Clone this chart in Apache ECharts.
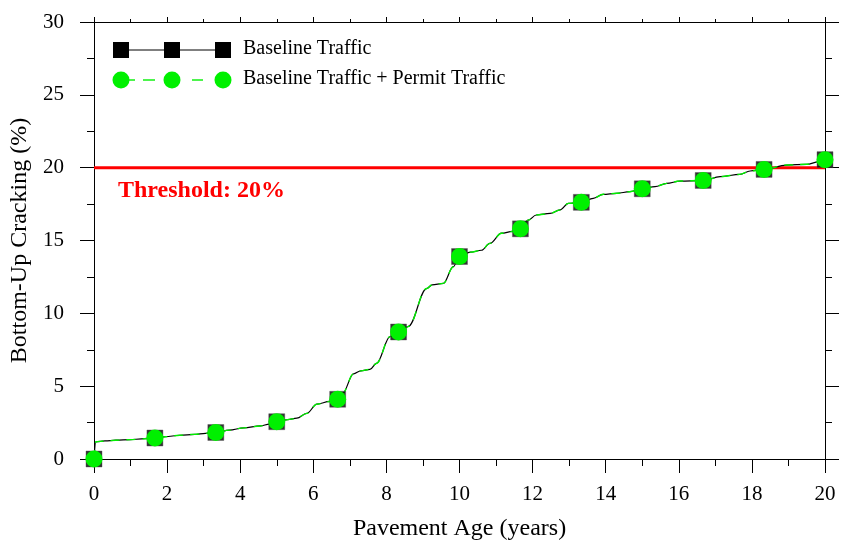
<!DOCTYPE html>
<html>
<head>
<meta charset="utf-8">
<script src="https://cdn.jsdelivr.net/npm/echarts@6/dist/echarts.min.js"></script>
<style>
  html, body { margin: 0; padding: 0; background: #fff; }
  #chart { width: 841px; height: 544px; }
</style>
</head>
<body>
<div id="chart"></div>
<script>
// curve (years, % cracking)
var curveAge = [
  0, 0.05, 0.3, 0.6, 1.0, 1.3, 1.667, 1.95, 2.35, 2.75, 3.05, 3.333,
  3.7, 4.1, 4.55, 4.8, 5.0, 5.3, 5.55, 5.82, 6.1, 6.45, 6.667,
  6.8, 7.1, 7.3, 7.55, 7.73, 8.1, 8.333, 8.6, 9.1, 9.25, 9.56, 9.83, 10.0,
  10.3, 10.6, 10.83, 11.15, 11.45, 11.667, 11.88, 12.1, 12.48, 12.75, 12.98, 13.333,
  13.66, 13.93, 14.3, 14.66, 15.0, 15.35, 15.67, 16.03, 16.667,
  17.13, 17.67, 17.95, 18.333, 18.95, 19.5, 19.82, 20.0
];
var baselineCrack = [
  0, 1.18, 1.24, 1.29, 1.33, 1.38, 1.44, 1.53, 1.63, 1.69, 1.76, 1.82,
  1.98, 2.14, 2.27, 2.4, 2.56, 2.7, 2.8, 3.13, 3.77, 3.95, 4.1,
  4.5, 5.85, 6.05, 6.15, 6.57, 8.4, 8.72, 9.1, 11.7, 11.95, 12.06, 13.2, 13.9,
  14.2, 14.33, 14.8, 15.5, 15.62, 15.8, 16.4, 16.75, 16.86, 17.1, 17.55, 17.62,
  17.89, 18.17, 18.24, 18.35, 18.55, 18.7, 18.92, 19.08, 19.12,
  19.38, 19.54, 19.77, 19.88, 20.18, 20.23, 20.4, 20.55
];
// the permit curve sits right on top of the baseline one
var permitCrack = baselineCrack.slice();

// symbols every 20 months
var markAge = [0, 1.667, 3.333, 5, 6.667, 8.333, 10, 11.667, 13.333, 15, 16.667, 18.333, 20];
var baselineMarks = [0, 1.44, 1.82, 2.56, 4.1, 8.72, 13.9, 15.8, 17.62, 18.55, 19.12, 19.88, 20.55];
var permitMarks = baselineMarks.slice();

var thresholdAge = [0, 20];
var thresholdVal = [20, 20];

function pairs(xs, ys) {
  var out = [];
  for (var i = 0; i < xs.length; i++) out.push([xs[i], ys[i]]);
  return out;
}

var FONT = '"Liberation Serif", "Times New Roman", serif';
var GREEN = '#00f000';
var chart = echarts.init(document.getElementById('chart'));

var tickCfg = { show: true, length: 14, inside: false, lineStyle: { color: '#000', width: 1 } };
var minorCfg = { show: true, splitNumber: 2, length: 7, lineStyle: { color: '#000', width: 1 } };
var lineCfg = { show: true, onZero: false, lineStyle: { color: '#000', width: 1 } };

var option = {
  animation: false,
  backgroundColor: '#fff',
  grid: { left: 94, right: 16, top: 22, bottom: 85, outerBoundsMode: 'none', containLabel: false },
  xAxis: [{
    type: 'value', min: 0, max: 20, interval: 2,
    name: 'Pavement Age (years)', nameLocation: 'middle', nameGap: 58,
    nameTextStyle: { fontFamily: FONT, fontSize: 24, color: '#000' },
    axisLine: lineCfg, axisTick: tickCfg, minorTick: minorCfg,
    splitLine: { show: false },
    axisLabel: { margin: 25, fontFamily: FONT, fontSize: 21, color: '#000' }
  }, {
    type: 'value', min: 0, max: 20, interval: 2, position: 'top',
    axisLine: lineCfg, axisTick: { show: true, length: 5, lineStyle: { color: '#000' } },
    minorTick: { show: true, splitNumber: 2, length: 3, lineStyle: { color: '#000' } },
    splitLine: { show: false }, axisLabel: { show: false }
  }],
  yAxis: [{
    type: 'value', min: 0, max: 30, interval: 5,
    name: 'Bottom-Up Cracking (%)', nameLocation: 'middle', nameGap: 60,
    nameTextStyle: { fontFamily: FONT, fontSize: 24, color: '#000' },
    axisLine: lineCfg, axisTick: tickCfg, minorTick: minorCfg,
    splitLine: { show: false },
    axisLabel: { margin: 30, fontFamily: FONT, fontSize: 21, color: '#000' }
  }, {
    type: 'value', min: 0, max: 30, interval: 5, position: 'right',
    axisLine: lineCfg, axisTick: { show: true, length: 14, lineStyle: { color: '#000' } },
    minorTick: { show: true, splitNumber: 2, length: 7, lineStyle: { color: '#000' } },
    splitLine: { show: false }, axisLabel: { show: false }
  }],
  series: [{
    name: 'Threshold', type: 'line', data: pairs(thresholdAge, thresholdVal),
    symbol: 'none', lineStyle: { color: '#ff0000', width: 3 }, z: 1
  }, {
    name: 'Baseline Traffic', type: 'line', data: pairs(curveAge, baselineCrack),
    symbol: 'none', smooth: 0.35, smoothMonotone: 'x',
    lineStyle: { color: '#000', width: 1.2 }, z: 2
  }, {
    name: 'Baseline Traffic + Permit Traffic', type: 'line', data: pairs(curveAge, permitCrack),
    symbol: 'none', smooth: 0.35, smoothMonotone: 'x',
    lineStyle: { color: GREEN, width: 1.4, type: [9, 7] }, z: 3
  }, {
    name: 'Baseline marks', type: 'scatter', data: pairs(markAge, baselineMarks),
    symbol: 'rect', symbolSize: 16,
    itemStyle: { color: '#000', borderColor: '#555', borderWidth: 0.5 }, z: 4
  }, {
    name: 'Permit marks', type: 'scatter', data: pairs(markAge, permitMarks),
    symbol: 'circle', symbolSize: 17,
    itemStyle: { color: GREEN, opacity: 1 }, z: 5
  }],
  graphic: [
    // legend, baseline row
    { type: 'line', shape: { x1: 121, y1: 50, x2: 223, y2: 50 }, style: { stroke: '#000', lineWidth: 1 } },
    { type: 'rect', shape: { x: 113, y: 42, width: 16, height: 16 }, style: { fill: '#000' } },
    { type: 'rect', shape: { x: 164, y: 42, width: 16, height: 16 }, style: { fill: '#000' } },
    { type: 'rect', shape: { x: 215, y: 42, width: 16, height: 16 }, style: { fill: '#000' } },
    { type: 'text', left: 243, top: 39, style: { text: 'Baseline Traffic', font: '20px ' + FONT, fill: '#000' } },
    // legend, permit row
    { type: 'line', shape: { x1: 121, y1: 80, x2: 135, y2: 80 }, style: { stroke: GREEN, lineWidth: 1.4 } },
    { type: 'line', shape: { x1: 143, y1: 80, x2: 155, y2: 80 }, style: { stroke: GREEN, lineWidth: 1.4 } },
    { type: 'line', shape: { x1: 192, y1: 80, x2: 203, y2: 80 }, style: { stroke: GREEN, lineWidth: 1.4 } },
    { type: 'circle', shape: { cx: 121, cy: 80, r: 8.5 }, style: { fill: GREEN } },
    { type: 'circle', shape: { cx: 172, cy: 80, r: 8.5 }, style: { fill: GREEN } },
    { type: 'circle', shape: { cx: 223, cy: 80, r: 8.5 }, style: { fill: GREEN } },
    { type: 'text', left: 243, top: 69, style: { text: 'Baseline Traffic + Permit Traffic', font: '20px ' + FONT, fill: '#000' } },
    // threshold note
    { type: 'text', left: 118, top: 179, style: { text: 'Threshold: 20%', font: 'bold 24px ' + FONT, fill: '#ff0000' } }
  ]
};
chart.setOption(option);
window.onresize = function() {
  chart.resize();
};
</script>
</body>
</html>
